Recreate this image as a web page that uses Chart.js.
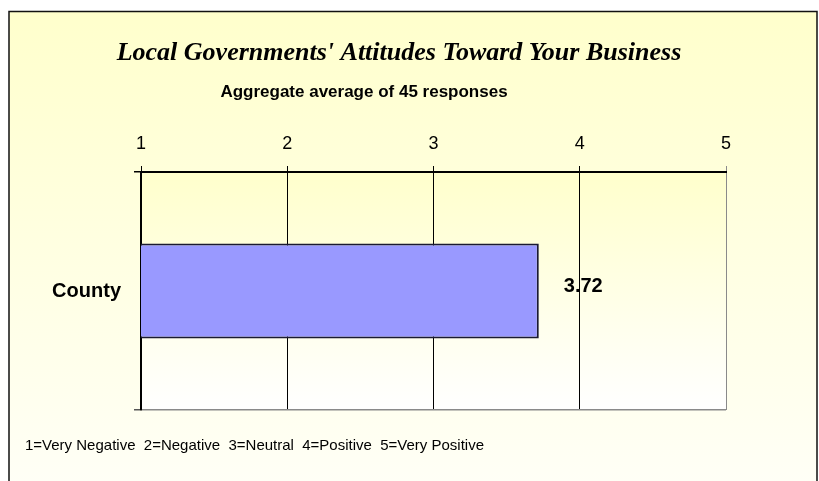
<!DOCTYPE html>
<html>
<head>
<meta charset="utf-8">
<title>Local Governments' Attitudes</title>
<script src="https://cdn.jsdelivr.net/npm/chart.js@4.4.1/dist/chart.umd.min.js"></script>
<style>
  html, body { margin: 0; padding: 0; background: #fff; }
  canvas { display: block; }
</style>
</head>
<body>
<canvas id="attitudeChart" width="819" height="481"></canvas>
<script>
// survey data
const categories = ["County"];
const averages = [3.72];
const scaleTicks = [1, 2, 3, 4, 5];

const titleText = "Local Governments' Attitudes Toward Your Business";
const subtitleText = "Aggregate average of 45 responses";
const keyText = "1=Very Negative  2=Negative  3=Neutral  4=Positive  5=Very Positive";

// background frame, plot gradient and the text around the chart
const framePlugin = {
    id: "frame",
    beforeDraw(chart) {
        const ctx = chart.ctx;
        const a = chart.chartArea;
        const w = chart.width, h = chart.height;
        ctx.save();
        ctx.fillStyle = "#ffffff";
        ctx.fillRect(0, 0, w, h);

        let g = ctx.createLinearGradient(0, 11, 0, h);
        g.addColorStop(0, "#FFFFCC");
        g.addColorStop(1, "#FFFFF6");
        ctx.fillStyle = g;
        ctx.fillRect(9, 11, 808, h);

        ctx.strokeStyle = "#111";
        ctx.lineWidth = 1.5;
        ctx.beginPath();
        ctx.moveTo(9, h + 2);
        ctx.lineTo(9, 11.5);
        ctx.lineTo(817, 11.5);
        ctx.lineTo(817, h + 2);
        ctx.stroke();

        g = ctx.createLinearGradient(0, a.top, 0, a.bottom);
        g.addColorStop(0, "#FFFFCC");
        g.addColorStop(1, "#FFFFFF");
        ctx.fillStyle = g;
        ctx.fillRect(a.left, a.top, a.right - a.left, a.bottom - a.top);

        ctx.fillStyle = "#000";
        ctx.textBaseline = "alphabetic";
        ctx.textAlign = "center";
        ctx.font = "italic bold 26px 'Liberation Serif', 'Times New Roman', serif";
        ctx.fillText(titleText, 399, 60);
        ctx.font = "bold 17px 'Liberation Sans', Arial, sans-serif";
        ctx.fillText(subtitleText, 364, 97);
        ctx.textAlign = "left";
        ctx.font = "15px 'Liberation Sans', Arial, sans-serif";
        ctx.fillText(keyText, 25, 450);
        ctx.restore();
    },
    afterDatasetsDraw(chart) {
        const ctx = chart.ctx;
        const meta = chart.getDatasetMeta(0);
        ctx.save();
        ctx.fillStyle = "#000";
        ctx.font = "bold 20px 'Liberation Sans', Arial, sans-serif";
        ctx.textAlign = "left";
        ctx.textBaseline = "alphabetic";
        meta.data.forEach((bar, i) => {
            ctx.fillText(averages[i].toFixed(2), bar.x + 25, bar.y + 1);
        });
        ctx.restore();
    }
};

const ctx = document.getElementById("attitudeChart").getContext("2d");
new Chart(ctx, {
    type: "bar",
    data: {
        labels: categories,
        datasets: [{
            label: "Average",
            data: averages,
            backgroundColor: "#9999FF",
            borderColor: "#1a1a33",
            borderWidth: 2,
            borderSkipped: false,
            categoryPercentage: 0.8,
            barPercentage: 0.5
        }]
    },
    options: {
        indexAxis: "y",
        responsive: false,
        animation: false,
        devicePixelRatio: 1,
        layout: { padding: { left: 0, top: 0, right: 93, bottom: 71 } },
        plugins: {
            legend: { display: false },
            tooltip: { enabled: false }
        },
        scales: {
            x: {
                position: "top",
                min: scaleTicks[0],
                max: scaleTicks[scaleTicks.length - 1],
                afterBuildTicks: s => { s.ticks = scaleTicks.map(v => ({ value: v })); },
                afterFit: s => { s.height = 172; },
                ticks: {
                    color: "#000",
                    padding: 11,
                    font: { family: "'Liberation Sans', Arial, sans-serif", size: 18 }
                },
                grid: {
                    color: c => c.tick && c.tick.value === 5 ? "#8a8a8a" : "#000",
                    tickColor: c => c.tick && c.tick.value === 5 ? "#8a8a8a" : "#000",
                    lineWidth: 1,
                    tickLength: 6
                },
                border: { color: "#000", width: 2 }
            },
            y: {
                afterFit: s => { s.width = 141; },
                ticks: {
                    color: "#000",
                    padding: 13,
                    font: { family: "'Liberation Sans', Arial, sans-serif", size: 20, weight: "bold" }
                },
                grid: {
                    offset: true,
                    color: c => c.index === 0 ? "#000" : "#8a8a8a",
                    tickColor: c => c.index === 0 ? "#000" : "#555",
                    lineWidth: 1.5,
                    tickLength: 7
                },
                border: { color: "#000", width: 2 }
            }
        }
    },
    plugins: [framePlugin]
});
</script>
</body>
</html>
